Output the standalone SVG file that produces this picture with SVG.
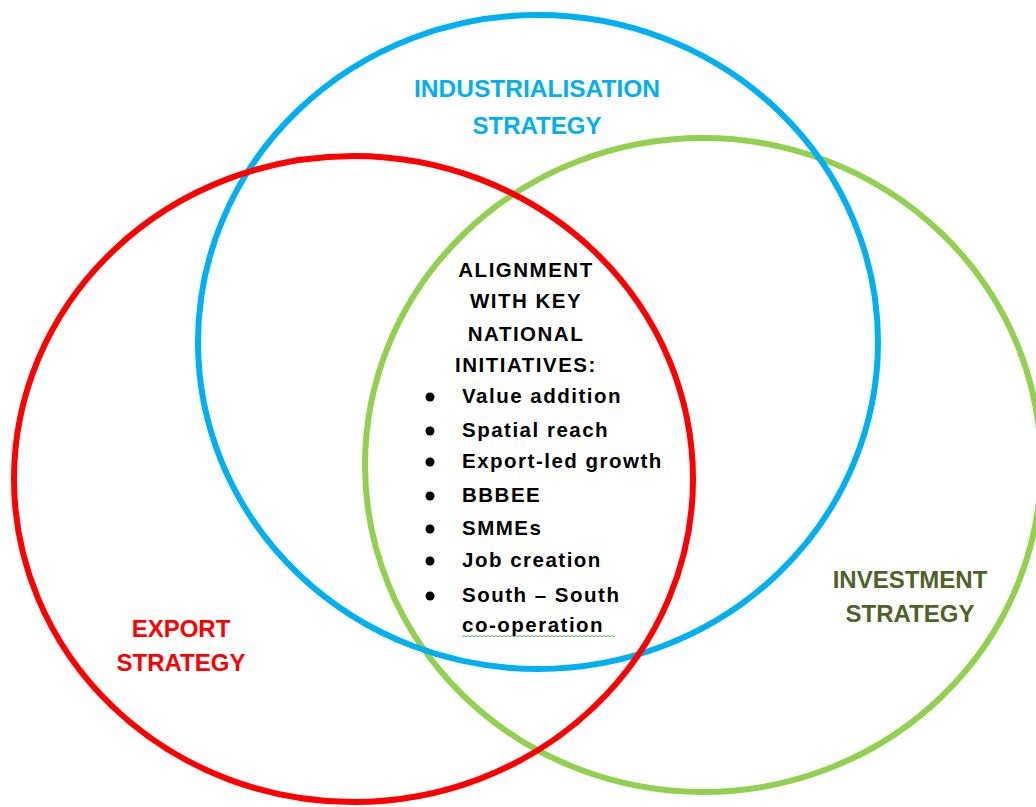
<svg xmlns="http://www.w3.org/2000/svg" width="1036" height="807" viewBox="0 0 1036 807">
<style>
.ring{fill:none;stroke-width:6}
.lbl{font-family:"Liberation Sans",Arial,sans-serif;font-weight:bold;font-size:24px;text-anchor:middle}
.ctr{font-family:"Liberation Sans",Arial,sans-serif;font-weight:bold;font-size:20.5px;letter-spacing:1.5px;fill:#000}
.mid{text-anchor:middle}
</style>
<rect width="1036" height="807" fill="#fff"/>
<g id="investment">
<ellipse class="ring" cx="703" cy="465" rx="338" ry="327" stroke="#92D050"/>
<text class="lbl" x="910" y="588" fill="#4F6228">INVESTMENT</text>
<text class="lbl" x="910" y="622" fill="#4F6228">STRATEGY</text>
</g>
<g id="industrialisation">
<ellipse class="ring" cx="538" cy="342" rx="340" ry="327" stroke="#00B0F0"/>
<text class="lbl" x="537" y="97" fill="#00B0F0" style="font-size:24.5px">INDUSTRIALISATION</text>
<text class="lbl" x="537" y="134" fill="#00B0F0">STRATEGY</text>
</g>
<g id="export">
<ellipse class="ring" cx="353.5" cy="479" rx="339.5" ry="323" stroke="#FF0000"/>
<text class="lbl" x="181" y="637" fill="#FF0000">EXPORT</text>
<text class="lbl" x="181" y="671" fill="#FF0000">STRATEGY</text>
</g>
<g id="alignment">
<text class="ctr mid" x="526" y="277">ALIGNMENT</text>
<text class="ctr mid" x="526" y="308">WITH KEY</text>
<text class="ctr mid" x="526" y="341">NATIONAL</text>
<text class="ctr mid" x="526" y="372">INITIATIVES:</text>
<g fill="#000">
<circle cx="430" cy="397" r="4.5"/>
<circle cx="430" cy="431" r="4.5"/>
<circle cx="430" cy="462" r="4.5"/>
<circle cx="430" cy="496" r="4.5"/>
<circle cx="430" cy="529" r="4.5"/>
<circle cx="430" cy="561" r="4.5"/>
<circle cx="430" cy="596" r="4.5"/>
</g>
<text class="ctr" x="462" y="403">Value addition</text>
<text class="ctr" x="462" y="437">Spatial reach</text>
<text class="ctr" x="462" y="468">Export-led growth</text>
<text class="ctr" x="462" y="502">BBBEE</text>
<text class="ctr" x="462" y="535">SMMEs</text>
<text class="ctr" x="462" y="567">Job creation</text>
<text class="ctr" x="462" y="602">South – South</text>
<text class="ctr" x="462" y="632">co-operation</text>
<path d="M462 637 l2 -1.5 l2 1.5 l2 -1.5 l2 1.5 l2 -1.5 l2 1.5 l2 -1.5 l2 1.5 l2 -1.5 l2 1.5 l2 -1.5 l2 1.5 l2 -1.5 l2 1.5 l2 -1.5 l2 1.5 l2 -1.5 l2 1.5 l2 -1.5 l2 1.5 l2 -1.5 l2 1.5 l2 -1.5 l2 1.5 l2 -1.5 l2 1.5 l2 -1.5 l2 1.5 l2 -1.5 l2 1.5 l2 -1.5 l2 1.5 l2 -1.5 l2 1.5 l2 -1.5 l2 1.5 l2 -1.5 l2 1.5 l2 -1.5 l2 1.5 l2 -1.5 l2 1.5 l2 -1.5 l2 1.5 l2 -1.5 l2 1.5 l2 -1.5 l2 1.5 l2 -1.5 l2 1.5 l2 -1.5 l2 1.5 l2 -1.5 l2 1.5 l2 -1.5 l2 1.5 l2 -1.5 l2 1.5 l2 -1.5 l2 1.5 l2 -1.5 l2 1.5 l2 -1.5 l2 1.5 l2 -1.5 l2 1.5 l2 -1.5 l2 1.5 l2 -1.5 l2 1.5 l2 -1.5 l2 1.5 l2 -1.5 l2 1.5 l2 -1.5 l2 1.5" fill="none" stroke="#5DAE5D" stroke-width="1"/>
</g>
<g id="connectors"/>
</svg>
